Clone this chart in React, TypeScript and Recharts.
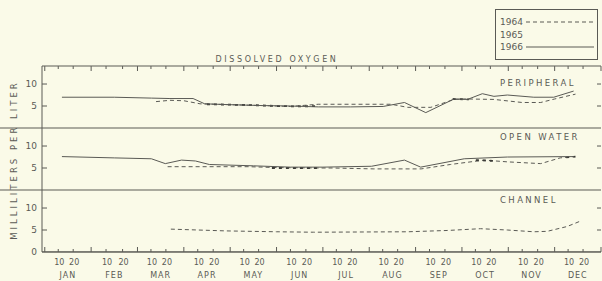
import React from 'react';
import { ComposedChart, Line, XAxis, YAxis, ReferenceLine } from 'recharts';

const MONTHS = ['JAN', 'FEB', 'MAR', 'APR', 'MAY', 'JUN', 'JUL', 'AUG', 'SEP', 'OCT', 'NOV', 'DEC'];
const DAYS = [31, 28, 31, 30, 31, 30, 31, 31, 30, 31, 30, 31];
const DAY_TICKS = [10, 20];
const Y_TICKS = [5, 10];

// m = months from Jan 1, v = ml per liter
const periph1964 = [
  { m: 2.4, v: 6.0 }, { m: 2.7, v: 6.3 }, { m: 3.0, v: 6.2 }, { m: 3.35, v: 5.5 },
  { m: 4.0, v: 5.3 }, { m: 4.7, v: 5.1 }, { m: 5.3, v: 4.9 }, { m: 5.9, v: 5.4 },
  { m: 7.47, v: 5.4 }, { m: 7.83, v: 4.7 }, { m: 8.33, v: 4.7 }, { m: 8.83, v: 6.5 },
  { m: 9.12, v: 6.6 }, { m: 9.69, v: 6.5 }, { m: 10.3, v: 5.8 }, { m: 10.7, v: 5.8 },
  { m: 11.0, v: 6.6 }, { m: 11.45, v: 7.7 },
];
const periph1965 = [
  { m: 3.5, v: 5.4 }, { m: 4.0, v: 5.3 }, { m: 4.5, v: 5.2 }, { m: 5.0, v: 5.0 },
  { m: 5.5, v: 4.9 }, { m: 5.9, v: 5.0 }, { m: 6.0, v: null },
  { m: 8.8, v: 6.6 }, { m: 9.15, v: 6.5 },
];
const periph1966 = [
  { m: 0.37, v: 7.0 }, { m: 1.5, v: 7.0 }, { m: 2.3, v: 6.8 }, { m: 2.7, v: 6.7 },
  { m: 3.2, v: 6.7 }, { m: 3.45, v: 5.5 }, { m: 4.0, v: 5.3 }, { m: 4.7, v: 5.1 },
  { m: 5.3, v: 5.0 }, { m: 5.9, v: 4.8 }, { m: 6.6, v: 4.8 }, { m: 7.3, v: 4.9 },
  { m: 7.76, v: 5.8 }, { m: 8.22, v: 3.5 }, { m: 8.83, v: 6.6 }, { m: 9.12, v: 6.5 },
  { m: 9.44, v: 7.8 }, { m: 9.69, v: 7.2 }, { m: 9.98, v: 7.5 }, { m: 10.55, v: 7.0 },
  { m: 10.98, v: 7.0 }, { m: 11.41, v: 8.4 },
];

const open1964 = [
  { m: 2.65, v: 5.3 }, { m: 3.5, v: 5.3 }, { m: 4.4, v: 5.3 }, { m: 5.0, v: 5.1 },
  { m: 5.9, v: 5.0 }, { m: 6.2, v: 5.0 }, { m: 7.1, v: 4.8 }, { m: 8.12, v: 4.8 },
  { m: 8.75, v: 5.8 }, { m: 9.48, v: 6.8 }, { m: 9.98, v: 6.4 }, { m: 10.7, v: 6.0 },
  { m: 11.12, v: 7.3 }, { m: 11.41, v: 7.6 },
];
const open1965 = [
  { m: 4.9, v: 5.0 }, { m: 5.4, v: 5.0 }, { m: 5.9, v: 5.0 }, { m: 6.0, v: null },
  { m: 9.3, v: 6.8 }, { m: 9.7, v: 6.6 }, { m: 9.8, v: null },
  { m: 11.25, v: 7.4 }, { m: 11.45, v: 7.6 },
];
const open1966 = [
  { m: 0.37, v: 7.6 }, { m: 1.5, v: 7.3 }, { m: 2.3, v: 7.1 }, { m: 2.6, v: 6.0 },
  { m: 2.95, v: 6.8 }, { m: 3.25, v: 6.6 }, { m: 3.55, v: 5.8 }, { m: 4.5, v: 5.5 },
  { m: 5.3, v: 5.2 }, { m: 6.0, v: 5.2 }, { m: 7.05, v: 5.4 }, { m: 7.76, v: 6.8 },
  { m: 8.11, v: 5.2 }, { m: 9.05, v: 7.1 }, { m: 9.98, v: 7.5 }, { m: 11.41, v: 7.6 },
];

const chan1964 = [
  { m: 2.72, v: 5.2 }, { m: 3.9, v: 4.8 }, { m: 5.0, v: 4.6 }, { m: 5.8, v: 4.5 },
  { m: 7.83, v: 4.6 }, { m: 8.69, v: 4.9 }, { m: 9.4, v: 5.3 }, { m: 9.98, v: 5.0 },
  { m: 10.55, v: 4.6 }, { m: 10.84, v: 4.7 }, { m: 11.27, v: 5.8 }, { m: 11.55, v: 7.0 },
];

const SPAN = 14.1;
const TOP = 3 * SPAN;
const INK = '#5a5a55';
const BG = '#fafae8';
const FONT = '"DejaVu Sans", sans-serif';

const W = 602;
const H = 281;
const M_TOP = 66;
const Y_W = 42;
const X_H = 29;
const PLOT_W = W - Y_W - 1;
const PLOT_H = H - M_TOP - X_H;
const PX_PER_UNIT = PLOT_H / TOP;

type TickInfo = { kind: 'month' | 'day' | 'name'; label: string };
const tickInfo = new Map<number, TickInfo>();
for (let i = 0; i <= 12; i++) tickInfo.set(i, { kind: 'month', label: '' });
MONTHS.forEach((name, i) => {
  DAY_TICKS.forEach((d) => tickInfo.set(i + (d - 1) / DAYS[i], { kind: 'day', label: String(d) }));
  tickInfo.set(i + 0.5, { kind: 'name', label: name });
});
const xTicks = Array.from(tickInfo.keys()).sort((a, b) => a - b);
const markTicks = xTicks.filter((t) => tickInfo.get(t)!.kind !== 'name');

const frameTicks = [0, ...[0, 1, 2].flatMap((p) => Y_TICKS.map((t) => p * SPAN + t))];

// short inward marks on the bottom axis and the top frame
const tickMarks = markTicks.flatMap((t) => {
  const h = (tickInfo.get(t)!.kind === 'month' ? 5 : 3) / PX_PER_UNIT;
  return [
    { key: `b${t}`, seg: [{ x: t, y: 0.02 }, { x: t, y: h }] },
    { key: `u${t}`, seg: [{ x: t, y: TOP - 0.02 }, { x: t, y: TOP - h }] },
  ];
});

const BottomTick = (props: any) => {
  const { x, y, payload } = props;
  const info = tickInfo.get(payload.value);
  if (!info || !info.label) return null;
  if (info.kind === 'name') {
    return (
      <text x={x} y={y + 26} textAnchor="middle" fontSize={8} fill={INK} fontFamily={FONT} letterSpacing={1}>
        {info.label}
      </text>
    );
  }
  return (
    <text x={x + 1} y={y + 13} textAnchor="middle" fontSize={8} fill={INK} fontFamily={FONT}>
      {info.label}
    </text>
  );
};

const LeftTick = (props: any) => {
  const { x, y, payload } = props;
  const v = Math.round(payload.value % SPAN);
  return (
    <g>
      {v !== 0 && <line x1={x} x2={x + 5} y1={y} y2={y} stroke={INK} strokeWidth={1} />}
      {v !== 0 && <line x1={x + PLOT_W - 4} x2={x + PLOT_W} y1={y} y2={y} stroke={INK} strokeWidth={1} />}
      <text x={x - 5} y={y + 3} textAnchor="end" fontSize={9} fill={INK} fontFamily={FONT}>
        {v}
      </text>
    </g>
  );
};

const panelLabel: React.CSSProperties = {
  position: 'absolute',
  left: 500,
  fontFamily: FONT,
  fontSize: 8.5,
  letterSpacing: 2.4,
  color: INK,
};

const legendRows = [
  { year: '1964', dash: '4 3', show: true },
  { year: '1965', dash: '', show: false },
  { year: '1966', dash: '', show: true },
];

export default function App() {
  return (
    <div style={{ position: 'relative', width: W, height: H, background: BG }}>
      <style>{`body{margin:0;background:${BG}}`}</style>
      <ComposedChart width={W} height={H} margin={{ top: M_TOP, right: 1, bottom: 0, left: 0 }}>
        <XAxis
          type="number"
          dataKey="m"
          domain={[-0.06, 12]}
          ticks={xTicks}
          interval={0}
          tick={<BottomTick />}
          tickLine={false}
          tickSize={0}
          tickMargin={0}
          height={X_H}
          stroke={INK}
        />
        <YAxis
          yAxisId="frame"
          type="number"
          domain={[0, TOP]}
          ticks={frameTicks}
          interval={0}
          tick={<LeftTick />}
          tickLine={false}
          tickSize={0}
          tickMargin={0}
          width={Y_W}
          stroke={INK}
        />
        <YAxis yAxisId="p" hide type="number" domain={[-2 * SPAN, SPAN]} />
        <YAxis yAxisId="o" hide type="number" domain={[-SPAN, 2 * SPAN]} />

        {/* frame: panel separators run out to the page edge, top line closes the frame */}
        <ReferenceLine yAxisId="frame" ifOverflow="visible" segment={[{ x: -1, y: SPAN }, { x: 12, y: SPAN }]} stroke={INK} strokeWidth={1} />
        <ReferenceLine yAxisId="frame" ifOverflow="visible" segment={[{ x: -1, y: 2 * SPAN }, { x: 12, y: 2 * SPAN }]} stroke={INK} strokeWidth={1} />
        <ReferenceLine yAxisId="frame" ifOverflow="visible" segment={[{ x: -0.06, y: TOP }, { x: 12, y: TOP }]} stroke={INK} strokeWidth={1} />
        <ReferenceLine yAxisId="frame" ifOverflow="visible" segment={[{ x: -0.06, y: 0.02 }, { x: 12, y: 0.02 }]} stroke={INK} strokeWidth={1} />
        {tickMarks.map((tm) => (
          <ReferenceLine key={tm.key} yAxisId="frame" ifOverflow="visible" segment={tm.seg} stroke={INK} strokeWidth={1} />
        ))}

        <Line yAxisId="p" data={periph1964} dataKey="v" stroke={INK} strokeWidth={1} strokeDasharray="4 3" dot={false} isAnimationActive={false} />
        <Line yAxisId="p" data={periph1965} dataKey="v" stroke="#3a3a36" strokeWidth={1.8} strokeDasharray="3 4" dot={false} isAnimationActive={false} />
        <Line yAxisId="p" data={periph1966} dataKey="v" stroke={INK} strokeWidth={1} dot={false} isAnimationActive={false} />

        <Line yAxisId="o" data={open1964} dataKey="v" stroke={INK} strokeWidth={1} strokeDasharray="4 3" dot={false} isAnimationActive={false} />
        <Line yAxisId="o" data={open1965} dataKey="v" stroke="#3a3a36" strokeWidth={1.8} strokeDasharray="3 4" dot={false} isAnimationActive={false} />
        <Line yAxisId="o" data={open1966} dataKey="v" stroke={INK} strokeWidth={1} dot={false} isAnimationActive={false} />

        <Line yAxisId="frame" data={chan1964} dataKey="v" stroke={INK} strokeWidth={1} strokeDasharray="4 3" dot={false} isAnimationActive={false} />
      </ComposedChart>

      <div
        style={{
          position: 'absolute', left: 0, right: 0, top: 55, textAlign: 'center', paddingRight: 48,
          fontFamily: FONT, fontSize: 8, letterSpacing: 2.6, color: INK, pointerEvents: 'none',
        }}
      >
        DISSOLVED OXYGEN
      </div>

      <div
        style={{
          position: 'absolute', left: 14, top: 160, transform: 'translate(-50%, -50%) rotate(-90deg)',
          whiteSpace: 'nowrap', fontFamily: FONT, fontSize: 8.5, letterSpacing: 3, color: INK,
        }}
      >
        MILLILITERS PER LITER
      </div>

      <div style={{ ...panelLabel, top: 78 }}>PERIPHERAL</div>
      <div style={{ ...panelLabel, top: 132 }}>OPEN WATER</div>
      <div style={{ ...panelLabel, top: 195 }}>CHANNEL</div>

      <div
        style={{
          position: 'absolute', left: 495, top: 9, width: 103, height: 51, border: `1px solid ${INK}`,
          fontFamily: FONT, fontSize: 9, color: INK, padding: '6px 0 0 4px', boxSizing: 'border-box',
        }}
      >
        {legendRows.map((r) => (
          <div key={r.year} style={{ display: 'flex', alignItems: 'center', height: 12.5 }}>
            <span style={{ width: 26 }}>{r.year}</span>
            {r.show && (
              <svg width={68} height={4}>
                <line x1={0} x2={68} y1={2} y2={2} stroke={INK} strokeWidth={1} strokeDasharray={r.dash || undefined} />
              </svg>
            )}
          </div>
        ))}
      </div>
    </div>
  );
}
